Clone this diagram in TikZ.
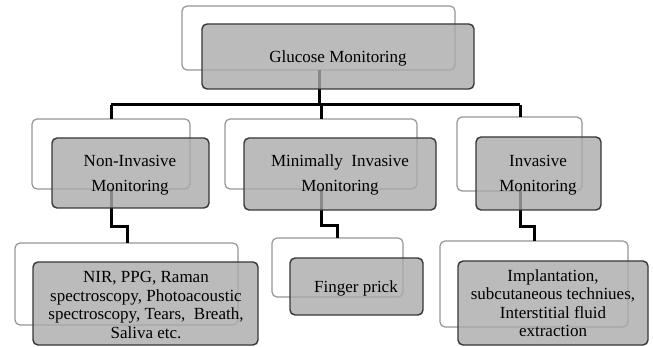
\documentclass[tikz,border=0pt]{standalone}
\usepackage{fontspec}
\setmainfont{Liberation Serif}
\usetikzlibrary{calc}
\definecolor{frontfill}{RGB}{170,170,170}
\definecolor{frontdraw}{RGB}{55,55,55}
\definecolor{backdraw}{RGB}{150,150,150}
\begin{document}
\begin{tikzpicture}[x=1pt,y=-1pt,
  backbox/.style={draw=backdraw,line width=1.2pt,fill=white,rounded corners=5pt},
  frontbox/.style={draw=frontdraw,line width=1.4pt,fill=frontfill,fill opacity=0.8,draw opacity=1,rounded corners=5pt},
  lbl/.style={font=\fontsize{17}{25}\selectfont,align=center,text=black,text opacity=1},
  lbls/.style={font=\fontsize{17}{18.5}\selectfont,align=center,text=black,text opacity=1},
  conn/.style={draw=black,line width=3pt}]
\useasboundingbox (0,0) rectangle (653,347);
% back boxes
\path[backbox] (182,6) rectangle (455,70);
\path[backbox] (32,119) rectangle (190,189);
\path[backbox] (225,119) rectangle (417,189);
\path[backbox] (457,117) rectangle (582,191);
\path[backbox] (15,243) rectangle (238,325);
\path[backbox] (272,238) rectangle (403,297);
\path[backbox] (440,241) rectangle (628,327);
% anchor coordinates
\coordinate (g) at (319,70);
\coordinate (n) at (111,119);
\coordinate (m) at (321,119);
\coordinate (i) at (520,117);
\coordinate (nb) at (111,189);
\coordinate (mb) at (321,189);
\coordinate (ib) at (520,191);
\coordinate (nl) at (127,243);
\coordinate (ml) at (337,238);
\coordinate (il) at (534,241);
% connectors
\draw[conn] (g) -- (g |- 0,105) ;
\draw[conn] (n |- 0,105) -- (i |- 0,105);
\draw[conn] (n |- 0,105) -- (n);
\draw[conn] (m |- 0,105) -- (m);
\draw[conn] (i |- 0,105) -- (i);
\draw[conn] (nb) -- (nb |- 0,227) -- (nl |- 0,227) -- (nl);
\draw[conn] (mb) -- (mb |- 0,226) -- (ml |- 0,226) -- (ml);
\draw[conn] (ib) -- (ib |- 0,227) -- (il |- 0,227) -- (il);
% front boxes
\path[frontbox] (202,24) rectangle (474,89);
\path[frontbox] (52,138) rectangle (209,208);
\path[frontbox] (244,138) rectangle (436,210);
\path[frontbox] (476,137) rectangle (601,210);
\path[frontbox] (33,262) rectangle (258,345);
\path[frontbox] (290,258) rectangle (423,315);
\path[frontbox] (458,261) rectangle (648,345);
% labels
\node[lbl] (tg) at (338,58) {Glucose Monitoring};
\node[lbl] (tn) at (130,175) {Non-Invasive\\Monitoring};
\node[lbl] (tm) at (340,175) {Minimally\ \ Invasive\\Monitoring};
\node[lbl] (ti) at (538,175) {Invasive\\Monitoring};
\node[lbls] (tnl) at (146,305) {NIR, PPG, Raman\\spectroscopy, Photoacoustic\\spectroscopy, Tears,\ \ Breath,\\Saliva etc.};
\node[lbls] (tml) at (356,288) {Finger prick};
\node[lbls] (til) at (553,303) {Implantation,\\subcutaneous techniues,\\Interstitial fluid\\extraction};
\end{tikzpicture}
\end{document}
